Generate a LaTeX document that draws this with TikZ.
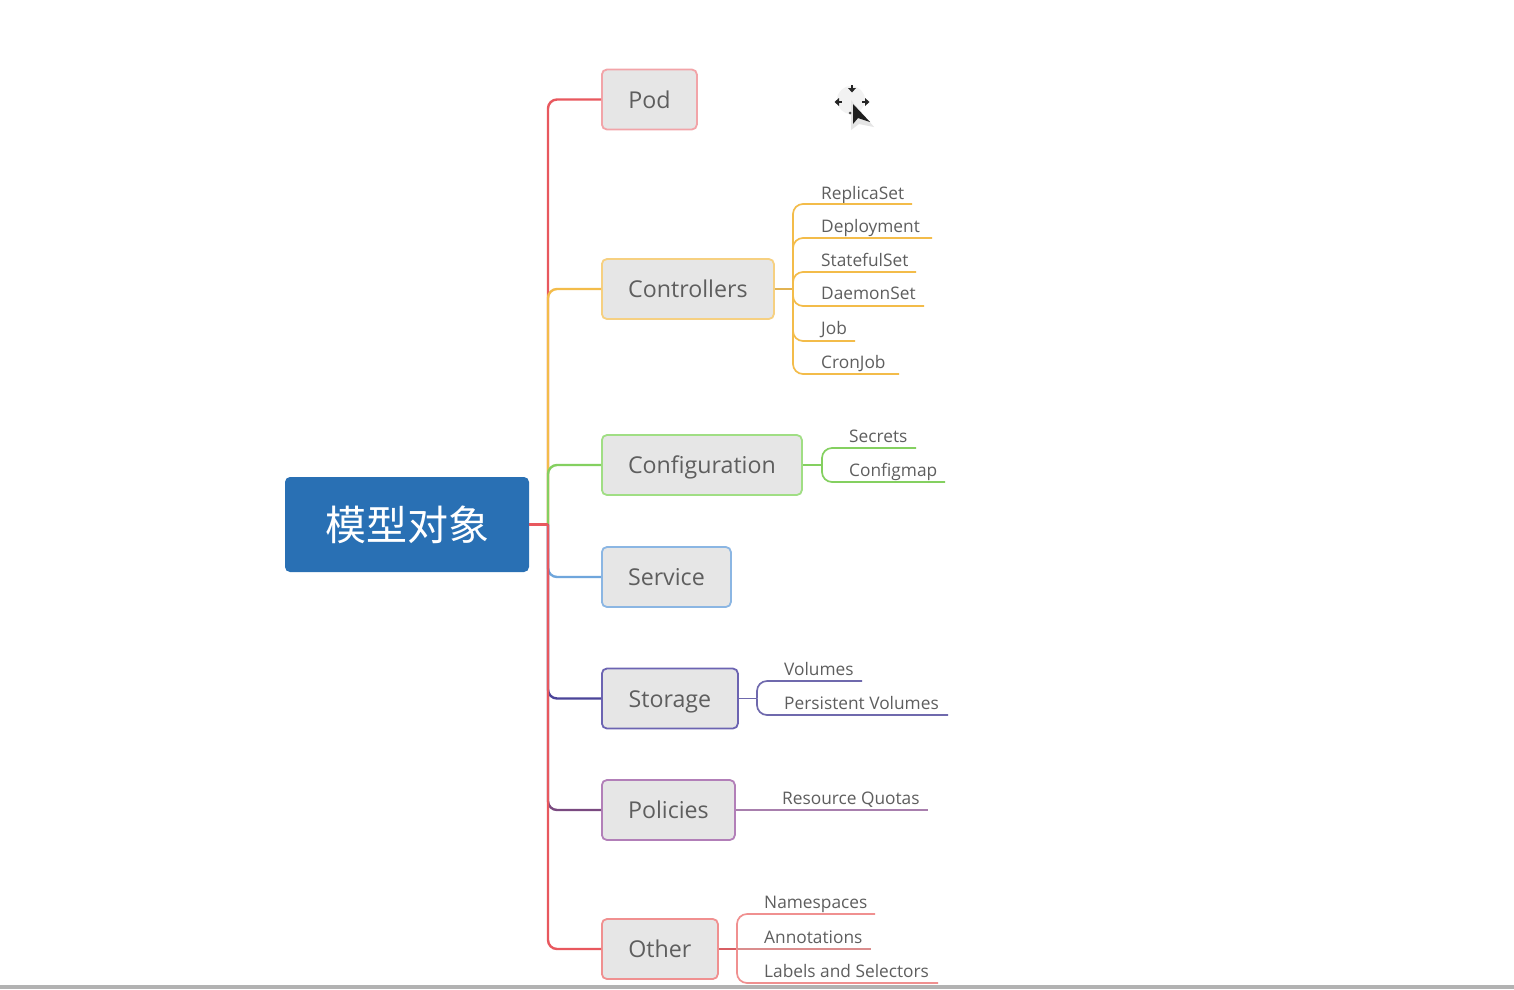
\documentclass[tikz,border=0pt]{standalone}
\usepackage{fontspec}
\setmainfont{Open Sans}
\newfontfamily\cjkfont{Noto Sans CJK SC}
\definecolor{cred}{HTML}{E8585E}
\definecolor{corange}{HTML}{F3BC4A}
\definecolor{cgreen}{HTML}{84D060}
\definecolor{cblue}{HTML}{6FA6DC}
\definecolor{cnavy}{HTML}{4B4499}
\definecolor{cplum}{HTML}{7A4A80}
\definecolor{bred}{HTML}{F2A4A8}
\definecolor{borange}{HTML}{F6D081}
\definecolor{bgreen}{HTML}{A0DE84}
\definecolor{bblue}{HTML}{8BB6E3}
\definecolor{bnavy}{HTML}{6C64B2}
\definecolor{bplum}{HTML}{B27FB8}
\definecolor{bother}{HTML}{F09090}
\definecolor{boxfill}{HTML}{E6E6E6}
\definecolor{inktext}{HTML}{5E5E5E}
\definecolor{rootblue}{HTML}{2970B4}
\tikzset{
  topic/.style={draw=#1,line width=1.8pt,fill=boxfill,rounded corners=5pt,inner sep=0pt,
    minimum height=60pt,text=inktext,font=\fontsize{23.2}{28}\selectfont,
    text height=17pt,text depth=0pt,anchor=west},
  rootbox/.style={fill=rootblue,draw=none,rounded corners=5pt,inner sep=0pt,minimum width=244pt,
    minimum height=95pt,text=white,font=\cjkfont\fontsize{41}{46}\selectfont},
  leaf/.style={text=inktext,font=\fontsize{17.3}{20}\selectfont,inner sep=0pt,anchor=base west},
  branch/.style={line width=2.4pt,rounded corners=9pt},
  twig/.style={line width=1.7pt,rounded corners=10pt},
}
\begin{document}
\begin{tikzpicture}[x=1pt,y=-1pt]
\useasboundingbox (0,0) rectangle (1514,989);
\fill[white] (0,0) rectangle (1514,989);
\fill[gray!60] (0,985) rectangle (1514,989);

% topics
\node[rootbox] (root) at (407,524.5) {模型对象};
\node[topic=bred,minimum width=95pt] (pod) at (601,99.5) {Pod};
\node[topic=borange,minimum width=172pt] (ctrl) at (601,289) {Controllers};
\node[topic=bgreen,minimum width=200pt] (conf) at (601,465) {Configuration};
\node[topic=bblue,minimum width=129pt] (svc) at (601,577) {Service};
\node[topic=bnavy,minimum width=136pt] (stor) at (601,698.5) {Storage};
\node[topic=bplum,minimum width=133pt] (pol) at (601,810) {Policies};
\node[topic=bother,minimum width=116pt] (oth) at (601,949) {Other};

\coordinate (trunk) at (548,524.5);
\coordinate (busC) at (793,289);
\coordinate (busF) at (822,465);
\coordinate (busS) at (757,698.5);
\coordinate (busO) at (737,949);

% leaves
\node[leaf] (l1) at (821,199) {ReplicaSet};
\node[leaf] (l2) at (821,232) {Deployment};
\node[leaf] (l3) at (821,266) {StatefulSet};
\node[leaf] (l4) at (821,299.5) {DaemonSet};
\node[leaf] (l5) at (821,334) {Job};
\node[leaf] (l6) at (821,368.5) {CronJob};
\node[leaf] (l7) at (849,442) {Secrets};
\node[leaf] (l8) at (849,476.5) {Configmap};
\node[leaf] (l9) at (784,675) {Volumes};
\node[leaf] (l10) at (784,709.5) {Persistent Volumes};
\node[leaf] (l11) at (782,804.5) {Resource Quotas};
\node[leaf] (l12) at (764,908.5) {Namespaces};
\node[leaf] (l13) at (764,943) {Annotations};
\node[leaf] (l14) at (764,977.5) {Labels and Selectors};

\coordinate (e1) at (912,204);
\coordinate (e2) at (932,238);
\coordinate (e3) at (916,272);
\coordinate (e4) at (924,306);
\coordinate (e5) at (855,341);
\coordinate (e6) at (899,374);
\coordinate (e7) at (916,448);
\coordinate (e8) at (945,482);
\coordinate (e9) at (862,681);
\coordinate (e10) at (948,715);
\coordinate (e11) at (928,810);
\coordinate (e12) at (875,914);
\coordinate (e13) at (871,949);
\coordinate (e14) at (938,983);

% trunk
\draw[branch,cred] (trunk) |- (pod.west);
\draw[branch,corange] (trunk) |- (ctrl.west);
\draw[branch,cgreen] (trunk) |- (conf.west);
\draw[branch,cblue] (trunk) |- (svc.west);
\draw[branch,cnavy] (trunk) |- (stor.west);
\draw[branch,cplum] (trunk) |- (pol.west);
\draw[branch,cred] (trunk) |- (oth.west);
\draw[line width=3pt,cred] (root.east) -- (trunk);

% Controllers
\draw[twig,corange!85!gray] (ctrl.east) -- (busC);
\foreach \e in {e1,e2,e3,e4,e5,e6}{\draw[twig,corange] (busC) |- (\e);}
% Configuration
\draw[twig,cgreen] (conf.east) -- (busF);
\foreach \e in {e7,e8}{\draw[twig,cgreen] (busF) |- (\e);}
% Storage
\draw[twig,cnavy!80] (stor.east) -- (busS);
\foreach \e in {e9,e10}{\draw[twig,cnavy!80] (busS) |- (\e);}
% Policies
\draw[line width=1.7pt,bplum!80!gray] (pol.east) -- (e11);
% Other
\draw[twig,cred!85!gray] (oth.east) -- (busO);
\draw[twig,bother] (busO) |- (e12);
\draw[line width=1.7pt,bother!80!gray] (busO) -- (e13);
\draw[twig,bother] (busO) |- (e14);

% cursor
\fill[black!5] (851,100) circle (14pt);
\fill[black!10] (851,100) -- (851,130) -- (859,124) -- (874,127) -- cycle;
\fill[black!88] (853,104) -- (853,124) -- (858,118) -- (870,122) -- cycle;
\foreach \dx/\dy/\r in {852/88/90,839/102/180,865/102/0}{
  \fill[black!85,shift={(\dx,\dy)},rotate=-\r] (4.5,0) -- (0,-4) -- (0,4) -- cycle;
  \fill[black!85,shift={(\dx,\dy)},rotate=-\r] (-3,-1.3) rectangle (0,1.3);
}
\fill[black!70] (850,113) circle (1.5pt);
\end{tikzpicture}
\end{document}
